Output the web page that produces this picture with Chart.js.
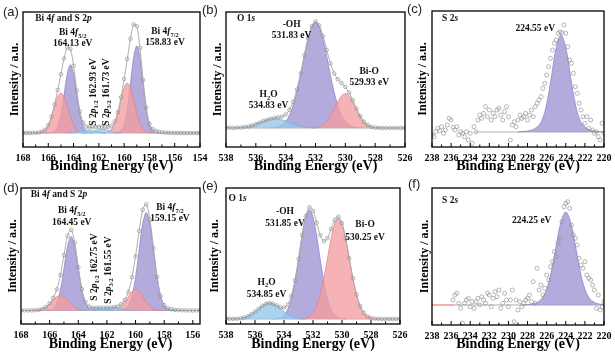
<!DOCTYPE html>
<html>
<head>
<meta charset="utf-8">
<script src="https://cdn.jsdelivr.net/npm/chart.js@4.4.1/dist/chart.umd.min.js"></script>
<style>
  html, body { margin: 0; padding: 0; background: #fff; }
  #fig { position: relative; width: 615px; height: 360px; overflow: hidden; background: #fff; }
  #fig canvas { position: absolute; }
</style>
</head>
<body>
<div id="fig">
  <canvas id="pa" width="212" height="175" style="left:0;top:0"></canvas>
  <canvas id="pb" width="212" height="175" style="left:200px;top:0"></canvas>
  <canvas id="pc" width="212" height="175" style="left:403px;top:0"></canvas>
  <canvas id="pd" width="212" height="185" style="left:0;top:175px"></canvas>
  <canvas id="pe" width="212" height="185" style="left:200px;top:175px"></canvas>
  <canvas id="pf" width="212" height="185" style="left:403px;top:175px"></canvas>
</div>
<script>
// ---- data (binding energy in eV, intensity in a.u.) ----

// (a) Bi 4f and S 2p
const aEnergy = [168, 167.75, 167.5, 167.25, 167, 166.75, 166.5, 166.25, 166, 165.75, 165.5, 165.25, 165, 164.75, 164.5, 164.25, 164, 163.75, 163.5, 163.25, 163, 162.75, 162.5, 162.25, 162, 161.75, 161.5, 161.25, 161, 160.75, 160.5, 160.25, 160, 159.75, 159.5, 159.25, 159, 158.75, 158.5, 158.25, 158, 157.75, 157.5, 157.25, 157, 156.75, 156.5, 156.25, 156, 155.75, 155.5, 155.25, 155, 154.75, 154.5, 154.25, 154];
const aEnvelope = [14.2, 14, 14.1, 14.2, 14.3, 14.6, 15.4, 17.3, 21.8, 30.3, 42.5, 57, 72.8, 88.5, 99.6, 97.9, 81.3, 56.5, 35.8, 24.5, 20.5, 19.5, 19.5, 20, 20.2, 20.4, 19.8, 20, 21.2, 25.5, 34.8, 49.6, 68, 88, 108.3, 122.6, 120.9, 99.1, 67, 39.3, 23.2, 18, 16.2, 15.2, 14.7, 14.4, 14.2, 14.1, 14, 14, 14, 14, 14, 14, 14, 14, 14];
const aBaseE = [168, 154];
const aBase = [14, 14];
const aPink1E = [167, 166.75, 166.5, 166.25, 166, 165.75, 165.5, 165.25, 165, 164.75, 164.5, 164.25, 164, 163.75, 163.5, 163.25, 163];
const aPink1 = [14, 14.3, 15, 17.1, 21.8, 29.9, 40.6, 50.1, 54, 50.1, 40.6, 29.9, 21.8, 17.1, 15, 14.3, 14];
const aPurple1E = [166.25, 166, 165.75, 165.5, 165.25, 165, 164.75, 164.5, 164.25, 164, 163.75, 163.5, 163.25, 163, 162.75, 162.5];
const aPurple1 = [14, 14.1, 14.4, 15.9, 20.9, 32.8, 52.4, 73, 82, 73, 52.4, 32.8, 20.9, 15.9, 14.4, 14];
const aPink2E = [161.75, 161.5, 161.25, 161, 160.75, 160.5, 160.25, 160, 159.75, 159.5, 159.25, 159, 158.75, 158.5, 158.25, 158, 157.75];
const aPink2 = [14, 14.4, 15.3, 17.9, 23.7, 33.9, 47.2, 59.2, 64, 59.2, 47.2, 33.9, 23.7, 17.9, 15.3, 14.4, 14];
const aPurple2E = [160.75, 160.5, 160.25, 160, 159.75, 159.5, 159.25, 159, 158.75, 158.5, 158.25, 158, 157.75, 157.5, 157.25];
const aPurple2 = [14.1, 14.5, 16.4, 22.8, 38, 63.1, 89.4, 101, 89.4, 63.1, 38, 22.8, 16.4, 14.5, 14];
const aS12E = [164.5, 164, 163.5, 163, 162.5, 162, 161.5];
const aS12 = [14, 14.5, 16, 17, 16, 14.8, 14];
const aS32E = [163.25, 162.75, 162.25, 161.75, 161.25, 160.75, 160.25];
const aS32 = [14, 14.6, 16.5, 18, 16.5, 14.6, 14];

// (b) and (e) O 1s share one energy grid
const o1sEnergy = [538, 537.75, 537.5, 537.25, 537, 536.75, 536.5, 536.25, 536, 535.75, 535.5, 535.25, 535, 534.75, 534.5, 534.25, 534, 533.75, 533.5, 533.25, 533, 532.75, 532.5, 532.25, 532, 531.75, 531.5, 531.25, 531, 530.75, 530.5, 530.25, 530, 529.75, 529.5, 529.25, 529, 528.75, 528.5, 528.25, 528, 527.75, 527.5, 527.25, 527, 526.75, 526.5, 526.25, 526];
const bEnvelope = [19.5, 19.2, 19.1, 19.3, 19.5, 20, 20.6, 21.6, 22.9, 24.4, 25.9, 27.2, 28.4, 29.1, 29.6, 30.4, 32.5, 37.1, 45.2, 57.5, 73.6, 91.8, 108.6, 120.9, 125.5, 121.7, 111.1, 97.1, 83.7, 73.7, 67.6, 64, 60.1, 54.5, 46.7, 38.4, 30.9, 25.3, 22, 20.2, 19.4, 19.1, 19, 19, 19, 19, 19, 19, 19];
const bBaseE = [538, 526];
const bBase = [19, 19];
const bOHE = [535, 534.75, 534.5, 534.25, 534, 533.75, 533.5, 533.25, 533, 532.75, 532.5, 532.25, 532, 531.75, 531.5, 531.25, 531, 530.75, 530.5, 530.25, 530, 529.75, 529.5, 529.25, 529];
const bOH = [19.2, 19.6, 20.4, 22.2, 25.6, 31.7, 41.3, 54.9, 72, 90.8, 108.1, 120.5, 125, 120.5, 108.1, 90.8, 72, 54.9, 41.3, 31.7, 25.6, 22.2, 20.4, 19.6, 19.2];
const bBiOE = [532.25, 532, 531.75, 531.5, 531.25, 531, 530.75, 530.5, 530.25, 530, 529.75, 529.5, 529.25, 529, 528.75, 528.5, 528.25, 528, 527.75];
const bBiO = [19.1, 19.4, 20.2, 22, 25.3, 30.7, 37.8, 45.3, 51.3, 53.5, 51.3, 45.3, 37.8, 30.7, 25.3, 22, 20.2, 19.4, 19.1];
const bH2OE = [537.5, 537.25, 537, 536.75, 536.5, 536.25, 536, 535.75, 535.5, 535.25, 535, 534.75, 534.5, 534.25, 534, 533.75, 533.5, 533.25, 533, 532.75, 532.5, 532.25, 532];
const bH2O = [19.1, 19.3, 19.5, 20, 20.6, 21.6, 22.9, 24.4, 25.9, 27.2, 28.2, 28.5, 28.2, 27.2, 25.9, 24.4, 22.9, 21.6, 20.6, 20, 19.5, 19.3, 19.1];

// (c) S 2s
const cEnergy = [238, 237.8, 237.6, 237.4, 237.2, 237, 236.8, 236.6, 236.4, 236.2, 236, 235.8, 235.6, 235.4, 235.2, 235, 234.8, 234.6, 234.4, 234.2, 234, 233.8, 233.6, 233.4, 233.2, 233, 232.8, 232.6, 232.4, 232.2, 232, 231.8, 231.6, 231.4, 231.2, 231, 230.8, 230.6, 230.4, 230.2, 230, 229.8, 229.6, 229.4, 229.2, 229, 228.8, 228.6, 228.4, 228.2, 228, 227.8, 227.6, 227.4, 227.2, 227, 226.8, 226.6, 226.4, 226.2, 226, 225.8, 225.6, 225.4, 225.2, 225, 224.8, 224.6, 224.4, 224.2, 224, 223.8, 223.6, 223.4, 223.2, 223, 222.8, 222.6, 222.4, 222.2, 222, 221.8, 221.6, 221.4, 221.2, 221, 220.8, 220.6, 220.4, 220.2, 220];
const cCounts = [12, 10.3, 15.3, 18.7, 16.3, 20.3, 13.7, 17, 22, 28.7, 27, 19.7, 17, 20.3, 12, 15.3, 13.7, 10.3, 15.3, 7, 13.7, 3.7, 20.3, 15.3, 27, 32, 28.7, 33.7, 40.3, 30.3, 37, 27, 33.7, 30.3, 37, 38.7, 32, 27, 35.3, 40.3, 30.3, 7, 22, 25.3, 20.3, 27, 32, 28.7, 30.3, 33.7, 27, 32, 37, 30.3, 40.3, 43.7, 47, 50.3, 58.7, 63.7, 72, 80.3, 88.7, 97, 103.7, 107, 113.7, 115.3, 114.3, 122, 113.7, 100.3, 87, 83.7, 73.7, 60.3, 53.7, 43.7, 37, 30.3, 23.7, 30.3, 18.7, 27, 17, 13.7, 15.3, 10.3, 7, 23.7, 13.7];
const cBaseE = [233.5, 220];
const cBase = [15, 15];
const cFitE = [229, 228.5, 228, 227.5, 227, 226.5, 226, 225.5, 225, 224.5, 224, 223.5, 223, 222.5, 222, 221.5, 221, 220.5, 220];
const cFit = [15, 15.4, 16, 17.2, 20, 26.5, 43, 70.5, 99.5, 112, 99.5, 70.5, 43, 26.5, 20, 17.2, 16, 15.4, 15];

// (d) Bi 4f and S 2p
const dEnergy = [168, 167.75, 167.5, 167.25, 167, 166.75, 166.5, 166.25, 166, 165.75, 165.5, 165.25, 165, 164.75, 164.5, 164.25, 164, 163.75, 163.5, 163.25, 163, 162.75, 162.5, 162.25, 162, 161.75, 161.5, 161.25, 161, 160.75, 160.5, 160.25, 160, 159.75, 159.5, 159.25, 159, 158.75, 158.5, 158.25, 158, 157.75, 157.5, 157.25, 157, 156.75, 156.5, 156.25, 156, 155.75, 155.5];
const dEnvelope = [13.6, 13.5, 13.6, 13.6, 13.8, 14.2, 15.3, 17.2, 20.7, 26.1, 34.7, 48.9, 68.9, 88.2, 94.3, 81.3, 56.9, 34.9, 22, 17.5, 16.3, 16.2, 16.2, 16.3, 16.4, 16.4, 17, 17.6, 19.9, 24.1, 32.2, 46.8, 67.7, 93.1, 114.3, 119.8, 104.5, 75.7, 47.2, 27.9, 18.8, 15.8, 14.8, 14.2, 13.9, 13.7, 13.6, 13.5, 13.5, 13.5, 13.5];
const dBaseE = [168, 155.5];
const dBase = [13.5, 13.5];
const dPink1E = [167.25, 167, 166.75, 166.5, 166.25, 166, 165.75, 165.5, 165.25, 165, 164.75, 164.5, 164.25, 164, 163.75, 163.5, 163.25];
const dPink1 = [13.5, 13.7, 14.1, 15.2, 17.1, 20.3, 24, 27.2, 28.5, 27.2, 24, 20.3, 17.1, 15.2, 14.1, 13.7, 13.5];
const dPurple1E = [166.25, 166, 165.75, 165.5, 165.25, 165, 164.75, 164.5, 164.25, 164, 163.75, 163.5, 163.25, 163, 162.75];
const dPurple1 = [13.5, 13.9, 15.6, 21, 33.9, 55.2, 77.7, 87.5, 77.7, 55.2, 33.9, 21, 15.6, 13.9, 13.5];
const dPink2E = [162, 161.75, 161.5, 161.25, 161, 160.75, 160.5, 160.25, 160, 159.75, 159.5, 159.25, 159, 158.75, 158.5, 158.25, 158];
const dPink2 = [13.5, 13.6, 14, 15.1, 17.6, 21.8, 27.4, 32.5, 34.5, 32.5, 27.4, 21.8, 17.6, 15.1, 14, 13.6, 13.5];
const dPurple2E = [161.25, 161, 160.75, 160.5, 160.25, 160, 159.75, 159.5, 159.25, 159, 158.75, 158.5, 158.25, 158, 157.75, 157.5, 157.25];
const dPurple2 = [13.5, 13.8, 14.8, 18.3, 27.8, 46.7, 74.1, 100.4, 111.5, 100.4, 74.1, 46.7, 27.8, 18.3, 14.8, 13.8, 13.5];
const dS12E = [164, 163.5, 163.25, 162.75, 162.25, 162, 161.5];
const dS12 = [13.5, 14.3, 15.2, 16, 15.2, 14.3, 13.5];
const dS32E = [162.75, 162.25, 162, 161.5, 161, 160.75, 160.25];
const dS32 = [13.5, 14.5, 15.5, 16.5, 15.5, 14.5, 13.5];

// (e) O 1s
const eEnvelope = [5.5, 5.2, 5.1, 5.3, 5.7, 6.5, 7.8, 9.8, 12.4, 15.4, 18.2, 20.2, 21, 20.2, 18.6, 16.8, 16.3, 19.3, 27.9, 43.5, 65, 88.9, 108, 116.7, 113.2, 101.3, 88.8, 82.8, 85.8, 95, 104.3, 107.4, 100.8, 85.5, 65.7, 45.8, 29.5, 18.1, 11.3, 7.7, 6, 5.4, 5.2, 5, 5, 5, 5, 5, 5];
const eBaseE = [538, 526];
const eBase = [5, 5];
const eOHE = [534.75, 534.5, 534.25, 534, 533.75, 533.5, 533.25, 533, 532.75, 532.5, 532.25, 532, 531.75, 531.5, 531.25, 531, 530.75, 530.5, 530.25, 530, 529.75];
const eOH = [5, 5.4, 6.4, 8.9, 14.5, 25.1, 42, 64.3, 88.2, 106.9, 114, 106.9, 88.2, 64.3, 42, 25.1, 14.5, 8.9, 6.4, 5.4, 5];
const eBiOE = [533, 532.75, 532.5, 532.25, 532, 531.75, 531.5, 531.25, 531, 530.75, 530.5, 530.25, 530, 529.75, 529.5, 529.25, 529, 528.75, 528.5, 528.25, 528, 527.75, 527.5];
const eBiO = [5, 5.4, 6, 7.7, 11.3, 18.1, 29.5, 45.8, 65.7, 85.5, 100.4, 106, 100.4, 85.5, 65.7, 45.8, 29.5, 18.1, 11.3, 7.7, 6, 5.4, 5];
const eH2OE = [537.5, 537.25, 537, 536.75, 536.5, 536.25, 536, 535.75, 535.5, 535.25, 535, 534.75, 534.5, 534.25, 534, 533.75, 533.5, 533.25, 533, 532.75, 532.5];
const eH2O = [5.1, 5.3, 5.7, 6.5, 7.8, 9.8, 12.4, 15.4, 18.2, 20.2, 21, 20.2, 18.2, 15.4, 12.4, 9.8, 7.8, 6.5, 5.7, 5.3, 5.1];

// (f) S 2s
const fEnergy = [235.8, 235.6, 235.4, 235.2, 235, 234.8, 234.6, 234.4, 234.2, 234, 233.8, 233.6, 233.4, 233.2, 233, 232.8, 232.6, 232.4, 232.2, 232, 231.8, 231.6, 231.4, 231.2, 231, 230.8, 230.6, 230.4, 230.2, 230, 229.8, 229.6, 229.4, 229.2, 229, 228.8, 228.6, 228.4, 228.2, 228, 227.8, 227.6, 227.4, 227.2, 227, 226.8, 226.6, 226.4, 226.2, 226, 225.8, 225.6, 225.4, 225.2, 225, 224.8, 224.6, 224.4, 224.2, 224, 223.8, 223.6, 223.4, 223.2, 223, 222.8, 222.6, 222.4, 222.2, 222, 221.8, 221.6, 221.4, 221.2, 221, 220.8, 220.6, 220.4, 220.2, 220];
const fCounts = [25, 30, 31.7, 21.7, 16.7, 1.7, 21.7, 25, 26.7, 18.3, 23.3, 16.7, 23.3, 26.7, 20, 28.3, 25, 21.7, 31.7, 30, 18.3, 26.7, 33.3, 28.3, 35, 16.7, 21.7, 31.7, 25, 18.3, 25, 35, 3.3, 25, 15, 23.3, 18.3, 21.7, 25, 26.7, 30, 23.3, 43.3, 21.7, 56.7, 35, 40, 30, 36.7, 50, 45, 58.3, 63.3, 73.3, 68.3, 81.7, 86.7, 103.3, 118.3, 121.7, 123.3, 116.7, 100, 90, 86.7, 80, 66.7, 60, 56.7, 63.3, 50, 46.7, 45, 40, 35, 16.7, 30, 15, 18.3, 23.3];
const fBaseRedE = [238, 235.7];
const fBaseGrayE = [235.7, 220];
const fBase = [20, 20];
const fFitE = [228.5, 228, 227.5, 227, 226.5, 226, 225.5, 225, 224.5, 224, 223.5, 223, 222.5, 222, 221.5, 221, 220.5, 220];
const fFit = [20, 20.4, 21, 22.5, 26.5, 35.8, 54.3, 79.7, 103.2, 113, 103.2, 79.7, 54.3, 35.8, 26.5, 22.5, 21, 20.4];

// tick labels
const bi4fTicks = [168, 166, 164, 162, 160, 158, 156, 154];
const bi4fTicksD = [168, 166, 164, 162, 160, 158, 156];
const o1sTicks = [538, 536, 534, 532, 530, 528, 526];
const s2sTicks = [238, 236, 234, 232, 230, 228, 226, 224, 222, 220];

// ---- styles ----
const SERIF = '"Liberation Serif", "Times New Roman", serif';
const PURPLE = 'rgba(163, 153, 214, 0.82)';
const PURPLE_LINE = 'rgba(135, 125, 200, 0.9)';
const PINK = 'rgba(243, 158, 160, 0.78)';
const PINK_LINE = 'rgba(230, 125, 130, 0.9)';
const BLUE = 'rgba(150, 200, 236, 0.8)';
const BLUE_LINE = 'rgba(115, 178, 222, 0.9)';
const GRAY_LINE = 'rgba(170, 170, 170, 0.95)';
const POINT = 'rgba(145, 145, 145, 0.95)';

function pts(xs, ys) {
  return xs.map((x, i) => ({ x, y: ys[i] }));
}

function peak(xs, ys, base, fill, line, order) {
  return {
    data: pts(xs, ys), showLine: true, fill: { value: base },
    backgroundColor: fill, borderColor: line, borderWidth: 0.8,
    pointRadius: 0, tension: 0.35, order
  };
}

function envelope(xs, ys) {
  return {
    data: pts(xs, ys), showLine: true, fill: false,
    borderColor: GRAY_LINE, borderWidth: 1, tension: 0.3,
    pointRadius: 1.8, pointStyle: 'circle', pointBorderWidth: 0.7,
    pointBorderColor: POINT, pointBackgroundColor: 'rgba(255,255,255,0)', order: 0
  };
}

function counts(xs, ys) {
  return {
    data: pts(xs, ys), showLine: false,
    pointRadius: 2, pointBorderWidth: 0.7,
    pointBorderColor: POINT, pointBackgroundColor: 'rgba(255,255,255,0)', order: 0
  };
}

function baseline(xs, ys, color) {
  return { data: pts(xs, ys), showLine: true, fill: false, borderColor: color, borderWidth: 1, pointRadius: 0, order: 9 };
}

/** draws a label made of [text, style] parts: style 'i' italic, 's' subscript */
function drawRich(ctx, parts, x, y, size, rotate) {
  const fontFor = st => (st === 'i' ? 'italic ' : '') + 'bold ' + (st === 's' ? size * 0.68 : size) + 'px ' + SERIF;
  let w = 0;
  parts.forEach(([t, st]) => { ctx.font = fontFor(st); w += ctx.measureText(t).width; });
  ctx.save();
  ctx.translate(x, y);
  if (rotate) ctx.rotate(-Math.PI / 2);
  ctx.textAlign = 'left';
  ctx.textBaseline = 'middle';
  ctx.fillStyle = '#111';
  let cx = -w / 2;
  parts.forEach(([t, st]) => {
    ctx.font = fontFor(st);
    ctx.fillText(t, cx, st === 's' ? size * 0.3 : 0);
    cx += ctx.measureText(t).width;
  });
  ctx.restore();
}

function decor(p) {
  return {
    id: 'decor',
    afterDraw(chart) {
      const { ctx, chartArea: a, scales: { x, y } } = chart;
      ctx.save();
      // inward ticks on the bottom axis
      ctx.strokeStyle = '#000';
      ctx.lineWidth = 1;
      p.xTicks.forEach((v, i) => {
        const px = x.getPixelForValue(v);
        ctx.beginPath(); ctx.moveTo(px, a.bottom); ctx.lineTo(px, a.bottom - 4); ctx.stroke();
        const next = p.xTicks[i + 1] !== undefined ? p.xTicks[i + 1] : v - 2;
        const mx = x.getPixelForValue((v + next) / 2);
        if (mx > a.left && mx < a.right) {
          ctx.beginPath(); ctx.moveTo(mx, a.bottom); ctx.lineTo(mx, a.bottom - 2.5); ctx.stroke();
        }
      });
      ctx.lineWidth = 1.3;
      ctx.strokeRect(a.left, a.top, a.right - a.left, a.bottom - a.top);
      p.labels.forEach(l => drawRich(ctx, l.parts, x.getPixelForValue(l.e), y.getPixelForValue(l.h), 9.5, l.rot));
      ctx.font = '13px "Liberation Sans", Arial, sans-serif';
      ctx.fillStyle = '#222';
      ctx.textAlign = 'left';
      ctx.textBaseline = 'middle';
      ctx.fillText(p.letter[0], p.letter[1], p.letter[2]);
      ctx.restore();
    }
  };
}

function makePanel(id, p) {
  return new Chart(document.getElementById(id), {
    type: 'scatter',
    data: { datasets: p.datasets },
    options: {
      responsive: false,
      animation: false,
      layout: { padding: { left: 0, right: p.padR, top: p.padT, bottom: 0 } },
      plugins: { legend: { display: false }, tooltip: { enabled: false } },
      scales: {
        x: {
          type: 'linear', reverse: true, min: p.xMin, max: p.xMax,
          grid: { display: false, drawTicks: false },
          border: { display: false },
          ticks: { autoSkip: false, maxRotation: 0, padding: 5, color: '#000', font: { family: SERIF, size: 10, weight: 'bold' } },
          afterBuildTicks: s => { s.ticks = p.xTicks.map(v => ({ value: v })); },
          afterFit: s => { s.height = p.xH; s.paddingLeft = 0; s.paddingRight = 0; },
          title: { display: true, text: 'Binding Energy (eV)', color: '#000', font: { family: SERIF, size: 14, weight: 'bold' }, padding: { top: 0, bottom: p.xTitlePad } }
        },
        y: {
          min: 0, max: p.yMax,
          grid: { display: false, drawTicks: false },
          border: { display: false },
          ticks: { display: false },
          afterFit: s => { s.width = p.yW; s.paddingTop = 0; s.paddingBottom = 0; },
          title: { display: true, text: 'Intensity / a.u.', color: '#000', font: { family: SERIF, size: 12, weight: 'bold' }, padding: { top: p.yTitlePad, bottom: 0 } }
        }
      }
    },
    plugins: [decor(p)]
  });
}

const bi4fHead = [['Bi 4'], ['f', 'i'], [' and S 2'], ['p', 'i']];

makePanel('pa', {
  xMin: 154, xMax: 168, xTicks: bi4fTicks, yMax: 135,
  yW: 23, padR: 12, padT: 12, xH: 28, xTitlePad: 0, yTitlePad: 8,
  letter: ['(a)', 3, 12],
  datasets: [
    baseline(aBaseE, aBase, GRAY_LINE),
    peak(aPurple1E, aPurple1, 14, PURPLE, PURPLE_LINE, 5),
    peak(aPurple2E, aPurple2, 14, PURPLE, PURPLE_LINE, 5),
    peak(aPink1E, aPink1, 14, PINK, PINK_LINE, 4),
    peak(aPink2E, aPink2, 14, PINK, PINK_LINE, 4),
    peak(aS12E, aS12, 14, BLUE, BLUE_LINE, 3),
    peak(aS32E, aS32, 14, BLUE, BLUE_LINE, 3),
    envelope(aEnergy, aEnvelope)
  ],
  labels: [
    { e: 164.8, h: 128, parts: bi4fHead },
    { e: 164.07, h: 114, parts: [['Bi 4'], ['f', 'i'], ['5/2', 's']] },
    { e: 164.07, h: 103, parts: [['164.13 eV']] },
    { e: 156.77, h: 115, parts: [['Bi 4'], ['f', 'i'], ['7/2', 's']] },
    { e: 156.77, h: 104, parts: [['158.83 eV']] },
    { e: 162.44, h: 55, rot: true, parts: [['S 2'], ['p', 'i'], ['1/2', 's'], [' 162.93 eV']] },
    { e: 161.43, h: 55, rot: true, parts: [['S 2'], ['p', 'i'], ['3/2', 's'], [' 161.73 eV']] }
  ]
});

makePanel('pb', {
  xMin: 526, xMax: 538, xTicks: o1sTicks, yMax: 135,
  yW: 26, padR: 7, padT: 12, xH: 28, xTitlePad: 0, yTitlePad: 11,
  letter: ['(b)', 2, 10],
  datasets: [
    baseline(bBaseE, bBase, GRAY_LINE),
    peak(bOHE, bOH, 19, PURPLE, PURPLE_LINE, 5),
    peak(bBiOE, bBiO, 19, PINK, PINK_LINE, 4),
    peak(bH2OE, bH2O, 19, BLUE, BLUE_LINE, 3),
    envelope(o1sEnergy, bEnvelope)
  ],
  labels: [
    { e: 536.66, h: 128, parts: [['O 1'], ['s', 'i']] },
    { e: 533.6, h: 122, parts: [['-OH']] },
    { e: 533.6, h: 111, parts: [['531.83 eV']] },
    { e: 528.4, h: 75, parts: [['Bi-O']] },
    { e: 528.4, h: 64, parts: [['529.93 eV']] },
    { e: 535.15, h: 52, parts: [['H'], ['2', 's'], ['O']] },
    { e: 535.15, h: 41, parts: [['534.83 eV']] }
  ]
});

makePanel('pc', {
  xMin: 220, xMax: 238, xTicks: s2sTicks, yMax: 136,
  yW: 29, padR: 11, padT: 11, xH: 28, xTitlePad: 0, yTitlePad: 13,
  letter: ['(c)', 4, 9],
  datasets: [
    baseline(cBaseE, cBase, GRAY_LINE),
    peak(cFitE, cFit, 15, PURPLE, PURPLE_LINE, 5),
    counts(cEnergy, cCounts)
  ],
  labels: [
    { e: 236.1, h: 128, parts: [['S 2'], ['s', 'i']] },
    { e: 227.2, h: 118, parts: [['224.55 eV']] }
  ]
});

makePanel('pd', {
  xMin: 155.5, xMax: 168, xTicks: bi4fTicksD, yMax: 136,
  yW: 21, padR: 12, padT: 13, xH: 36, xTitlePad: 7, yTitlePad: 6,
  letter: ['(d)', 3, 13],
  datasets: [
    baseline(dBaseE, dBase, GRAY_LINE),
    peak(dPurple1E, dPurple1, 13.5, PURPLE, PURPLE_LINE, 5),
    peak(dPurple2E, dPurple2, 13.5, PURPLE, PURPLE_LINE, 5),
    peak(dPink1E, dPink1, 13.5, PINK, PINK_LINE, 4),
    peak(dPink2E, dPink2, 13.5, PINK, PINK_LINE, 4),
    peak(dS12E, dS12, 13.5, BLUE, BLUE_LINE, 3),
    peak(dS32E, dS32, 13.5, BLUE, BLUE_LINE, 3),
    envelope(dEnergy, dEnvelope)
  ],
  labels: [
    { e: 165.35, h: 129.5, parts: bi4fHead },
    { e: 164.46, h: 113, parts: [['Bi 4'], ['f', 'i'], ['5/2', 's']] },
    { e: 164.46, h: 101.5, parts: [['164.45 eV']] },
    { e: 157.6, h: 116, parts: [['Bi 4'], ['f', 'i'], ['7/2', 's']] },
    { e: 157.6, h: 105, parts: [['159.15 eV']] },
    { e: 162.84, h: 57, rot: true, parts: [['S 2'], ['p', 'i'], ['1/2', 's'], [' 162.75 eV']] },
    { e: 161.9, h: 54, rot: true, parts: [['S 2'], ['p', 'i'], ['3/2', 's'], [' 161.55 eV']] }
  ]
});

makePanel('pe', {
  xMin: 526, xMax: 538, xTicks: o1sTicks, yMax: 136,
  yW: 26, padR: 12, padT: 13, xH: 36, xTitlePad: 7, yTitlePad: 8,
  letter: ['(e)', 2, 11],
  datasets: [
    baseline(eBaseE, eBase, GRAY_LINE),
    peak(eOHE, eOH, 5, PURPLE, PURPLE_LINE, 5),
    peak(eBiOE, eBiO, 5, PINK, PINK_LINE, 4),
    peak(eH2OE, eH2O, 5, BLUE, BLUE_LINE, 3),
    envelope(o1sEnergy, eEnvelope)
  ],
  labels: [
    { e: 537.2, h: 125, parts: [['O 1'], ['s', 'i']] },
    { e: 533.93, h: 112, parts: [['-OH']] },
    { e: 533.93, h: 100.5, parts: [['531.85 eV']] },
    { e: 528.41, h: 99, parts: [['Bi-O']] },
    { e: 528.41, h: 86.5, parts: [['530.25 eV']] },
    { e: 535.2, h: 41.5, parts: [['H'], ['2', 's'], ['O']] },
    { e: 535.2, h: 29.5, parts: [['534.85 eV']] }
  ]
});

makePanel('pf', {
  xMin: 220, xMax: 238, xTicks: s2sTicks, yMax: 137,
  yW: 29, padR: 11, padT: 13, xH: 35, xTitlePad: 7, yTitlePad: 15,
  letter: ['(f)', 5, 9],
  datasets: [
    baseline(fBaseRedE, fBase, 'rgba(225, 80, 80, 0.9)'),
    baseline(fBaseGrayE, fBase, GRAY_LINE),
    peak(fFitE, fFit, 20, PURPLE, PURPLE_LINE, 5),
    counts(fEnergy, fCounts)
  ],
  labels: [
    { e: 236.1, h: 124, parts: [['S 2'], ['s', 'i']] },
    { e: 227.57, h: 104, parts: [['224.25 eV']] }
  ]
});
</script>
</body>
</html>
